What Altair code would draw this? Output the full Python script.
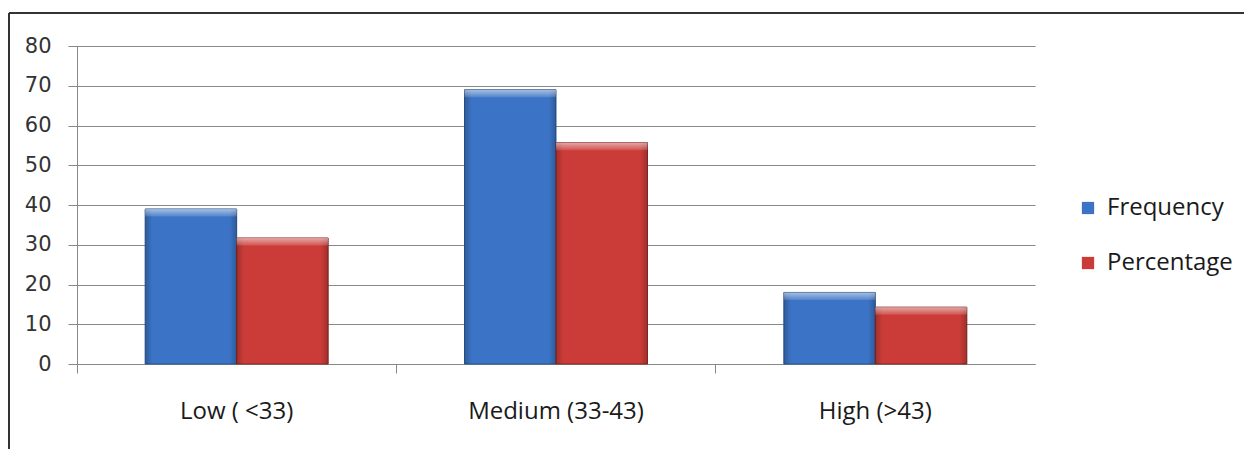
import altair as alt
import pandas as pd

# Score bands and the two series plotted for each
categories = ["Low ( <33)", "Medium (33-43)", "High (>43)"]
series = ["Frequency", "Percentage"]
frequency = [39, 69, 18]
percentage = [31.7, 55.7, 14.3]
y_ticks = [0, 10, 20, 30, 40, 50, 60, 70, 80]

rows = []
for i, cat in enumerate(categories):
    rows.append({"category": cat, "series": series[0], "value": frequency[i]})
    rows.append({"category": cat, "series": series[1], "value": percentage[i]})
df = pd.DataFrame(rows)

W, H = 958, 318
GRID = "#888888"
LABEL_FONT = "Open Sans"

x_enc = alt.X(
    "category:N",
    sort=categories,
    scale=alt.Scale(paddingInner=0, paddingOuter=0),
    axis=alt.Axis(
        title=None,
        labelAngle=0,
        bandPosition=0,
        domainColor=GRID,
        tickColor=GRID,
        tickSize=9,
        labelPadding=26,
        labelFont=LABEL_FONT,
        labelFontSize=24,
        labelColor="#1a1a1a",
        grid=False,
    ),
)
xoff = alt.XOffset(
    "series:N",
    sort=series,
    scale=alt.Scale(paddingInner=0, paddingOuter=0.745),
)
y_enc = alt.Y(
    "value:Q",
    scale=alt.Scale(domain=[0, 80], nice=False),
    axis=alt.Axis(
        title=None,
        values=y_ticks,
        labelOverlap=False,
        grid=True,
        gridColor=GRID,
        gridWidth=1.2,
        domainColor=GRID,
        tickColor=GRID,
        tickSize=9,
        labelPadding=17,
        labelFont="DejaVu Sans",
        labelFontSize=21,
        labelColor="#333333",
    ),
)

color_enc = alt.Color(
    "series:N",
    sort=series,
    scale=alt.Scale(domain=series, range=["#3b74c6", "#cb3c38"]),
    legend=alt.Legend(
        title=None,
        orient="none",
        legendX=999,
        legendY=150,
        symbolType="square",
        symbolSize=150,
        symbolStrokeWidth=0,
        labelFont=LABEL_FONT,
        labelFontSize=24,
        labelColor="#1a1a1a",
        labelOffset=7,
        rowPadding=31,
    ),
)
stroke_enc = alt.Stroke(
    "series:N",
    sort=series,
    scale=alt.Scale(domain=series, range=["#2a568f", "#8a2826"]),
    legend=None,
)

base = alt.Chart(df)

bars = base.mark_bar(strokeWidth=1).encode(
    x=x_enc, xOffset=xoff, y=y_enc, color=color_enc, stroke=stroke_enc
)

# darker side edges for the bevelled look
shade = base.mark_bar(
    color=alt.Gradient(
        gradient="linear",
        x1=0, x2=1, y1=0, y2=0,
        stops=[
            alt.GradientStop(color="rgba(0,0,0,0.22)", offset=0),
            alt.GradientStop(color="rgba(0,0,0,0)", offset=0.08),
            alt.GradientStop(color="rgba(0,0,0,0)", offset=0.92),
            alt.GradientStop(color="rgba(0,0,0,0.22)", offset=1),
        ],
    )
).encode(x=x_enc, xOffset=xoff, y=y_enc)

# light strip across each bar top
top = base.transform_calculate(top_low="datum.value - 1.9").mark_bar(
    color=alt.Gradient(
        gradient="linear",
        x1=0, x2=0, y1=0, y2=1,
        stops=[
            alt.GradientStop(color="rgba(255,255,255,0.55)", offset=0),
            alt.GradientStop(color="rgba(255,255,255,0.12)", offset=1),
        ],
    )
).encode(x=x_enc, xOffset=xoff, y=y_enc, y2="top_low:Q")

# outer frame of the chart area
frame_top = alt.Chart(df).mark_rule(color="#333333", strokeWidth=2).encode(
    x=alt.value(-68), x2=alt.value(1200), y=alt.value(-33)
)
frame_left = alt.Chart(df).mark_rule(color="#333333", strokeWidth=2).encode(
    x=alt.value(-68), y=alt.value(-33), y2=alt.value(420)
)

chart = (
    alt.layer(bars, shade, top, frame_top, frame_left)
    .properties(
        width=W,
        height=H,
        autosize=alt.AutoSizeParams(type="none"),
        padding={"left": 77, "top": 46, "right": 209, "bottom": 85},
        background="white",
    )
    .configure_view(stroke=None)
)

chart.save("out.html", embed_options={"renderer": "svg", "actions": False})
